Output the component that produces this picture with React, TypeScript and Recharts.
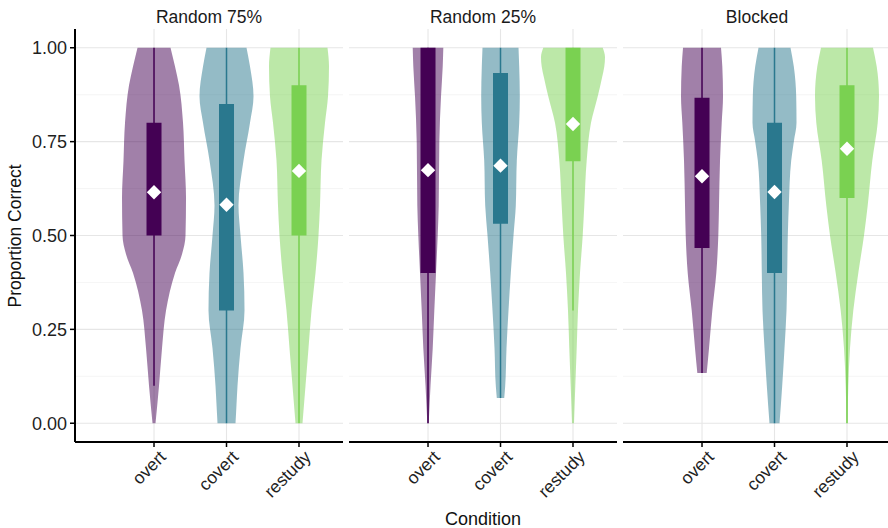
import React from 'react';
import { ComposedChart, Area, Scatter, XAxis, YAxis, CartesianGrid } from 'recharts';

const PANELS = ['Random 75%', 'Random 25%', 'Blocked'];
const CONDITIONS = ['overt', 'covert', 'restudy'];
const COLORS = ['#440154', '#2A788E', '#7AD151'];
const Y_TICKS = [0, 0.25, 0.5, 0.75, 1];
const Y_MINOR = [0.125, 0.375, 0.625, 0.875];
const CATEGORY_POS = [1, 2, 3];

// Violin outlines: proportion-correct levels and relative density at each level
const random75Levels = [
  [0, 0.1, 0.2, 0.3, 0.4, 0.45, 0.5, 0.6, 0.7, 0.8, 0.9, 0.95, 1],
  [0, 0.05, 0.1, 0.2, 0.3, 0.4, 0.5, 0.58, 0.7, 0.8, 0.87, 0.95, 1],
  [0, 0.1, 0.2, 0.3, 0.4, 0.5, 0.58, 0.7, 0.8, 0.87, 0.95, 1],
];
const random75Density = [
  [1.5, 5, 8, 12, 21, 28, 31.5, 32, 30.5, 29, 25, 21, 16.5],
  [9, 10, 11, 14, 18, 17, 14, 12, 17, 23.5, 27, 23.5, 20],
  [3.5, 6.5, 9.5, 12.5, 16.5, 19.5, 21, 22.5, 26, 29, 30, 28.5],
];
const random25Levels = [
  [0, 0.1, 0.2, 0.3, 0.4, 0.5, 0.58, 0.75, 0.87, 0.95, 1],
  [0.067, 0.1, 0.2, 0.3, 0.4, 0.5, 0.58, 0.7, 0.8, 0.87, 0.95, 1],
  [0, 0.1, 0.2, 0.3, 0.4, 0.5, 0.58, 0.7, 0.8, 0.87, 0.92, 0.95, 0.975, 1],
];
const random25Density = [
  [0.7, 2.5, 4.7, 6.3, 8, 9.7, 10.7, 11.3, 13, 14.7, 15.3],
  [3.7, 4.7, 6, 8, 10.3, 13, 15.3, 16.3, 18.7, 19.3, 18.7, 18],
  [1, 2.3, 3.7, 5, 7, 9.7, 11.3, 13.7, 18, 24.7, 29, 31.3, 32, 29.7],
];
const blockedLevels = [
  [0.134, 0.2, 0.3, 0.4, 0.5, 0.58, 0.7, 0.8, 0.87, 0.95, 1],
  [0, 0.1, 0.2, 0.3, 0.4, 0.5, 0.58, 0.7, 0.75, 0.8, 0.87, 0.95, 1],
  [0, 0.1, 0.2, 0.3, 0.4, 0.5, 0.58, 0.7, 0.8, 0.87, 0.95, 1],
];
const blockedDensity = [
  [4.7, 7, 10.3, 14.3, 16.3, 17, 18, 19.7, 21, 20.3, 19],
  [5, 7.7, 10, 12, 12.7, 13.3, 14.3, 16.7, 19.3, 22, 21.7, 19.3, 16],
  [0.5, 1.3, 3, 6.3, 11.3, 17, 20.7, 25.3, 30.7, 32, 29.7, 26],
];

// Box-plot statistics [panel][condition]
const q1 = [[0.5, 0.3, 0.5], [0.4, 0.531, 0.698], [0.467, 0.4, 0.6]];
const q3 = [[0.8, 0.85, 0.9], [1, 0.933, 1], [0.867, 0.8, 0.9]];
const whiskerLow = [[0.1, 0, 0], [0, 0.067, 0.3], [0.134, 0, 0]];
const whiskerHigh = [[1, 1, 1], [1, 1, 1], [1, 1, 1]];
const means = [[0.615, 0.582, 0.672], [0.674, 0.686, 0.797], [0.658, 0.616, 0.731]];

const LEVELS = [random75Levels, random25Levels, blockedLevels];
const DENSITY = [random75Density, random25Density, blockedDensity];

const FONT = '"Liberation Sans", Arial, Helvetica, sans-serif';
const X_DOMAIN: [number, number] = [-0.09, 3.607];
const Y_DOMAIN: [number, number] = [-0.05, 1.05];
const VIOLIN_HALF = 0.4414;
const DENSITY_MAX = Math.max(...DENSITY.flat(2));

function buildRows(p: number) {
  const rows: any[] = [];
  LEVELS[p].forEach((lv, i) => {
    lv.forEach((y, j) => {
      const hw = (DENSITY[p][i][j] / DENSITY_MAX) * VIOLIN_HALF;
      const c = CATEGORY_POS[i];
      rows.push({ y, ['v' + i]: [c - hw, c + hw] });
    });
  });
  return rows;
}

const XTick = (props: any) => {
  const { x, y, payload } = props;
  const ax = x + 13;
  const ay = y + 9;
  return (
    <text
      x={ax}
      y={ay}
      textAnchor="end"
      transform={`rotate(-45 ${ax} ${ay})`}
      fontSize={17.5}
      fill="#1f1f1f"
      fontFamily={FONT}
    >
      {CONDITIONS[payload.value - 1]}
    </text>
  );
};

const Diamond = (props: any) => {
  const { cx, cy } = props;
  const r = 7.2;
  return <path d={`M${cx},${cy - r}L${cx + r},${cy}L${cx},${cy + r}L${cx - r},${cy}Z`} fill="#ffffff" />;
};

const Empty = () => <g />;

const Panel = ({ p, left, width, showY }: { p: number; left: number; width: number; showY: boolean }) => {
  const rows = buildRows(p);
  return (
    <div style={{ position: 'absolute', left, top: 0 }}>
      <ComposedChart
        layout="vertical"
        width={width}
        height={528}
        data={rows}
        margin={{ top: 29, right: showY ? 7 : 0, bottom: 0, left: 0 }}
      >
        <CartesianGrid horizontalValues={Y_MINOR} vertical={false} stroke="#f2f2f2" strokeWidth={0.8} />
        <CartesianGrid horizontalValues={Y_TICKS} verticalValues={CATEGORY_POS} stroke="#e6e6e6" strokeWidth={1.1} />
        <XAxis
          type="number"
          dataKey="x"
          domain={X_DOMAIN}
          allowDataOverflow
          ticks={CATEGORY_POS}
          interval={0}
          height={86}
          axisLine={{ stroke: '#000', strokeWidth: 2 }}
          tickLine={{ stroke: '#000', strokeWidth: 1.5 }}
          tickSize={5}
          tick={<XTick />}
        />
        <YAxis
          type="number"
          dataKey="y"
          domain={Y_DOMAIN}
          reversed
          allowDataOverflow
          ticks={Y_TICKS}
          interval={0}
          hide={!showY}
          width={75}
          axisLine={{ stroke: '#000', strokeWidth: 2 }}
          tickLine={{ stroke: '#000', strokeWidth: 1.5 }}
          tickSize={5}
          tickMargin={3}
          tickFormatter={(v: number) => v.toFixed(2)}
          tick={{ fontSize: 18, fill: '#1f1f1f', fontFamily: FONT }}
        />
        {CONDITIONS.map((c, i) => (
          <Area
            key={'violin' + c}
            dataKey={'v' + i}
            type="monotone"
            stroke="none"
            fill={COLORS[i]}
            fillOpacity={0.5}
            isAnimationActive={false}
            dot={false}
            activeDot={false}
          />
        ))}
        {CONDITIONS.map((c, i) => (
          <Scatter
            key={'whisker' + c}
            data={[
              { x: CATEGORY_POS[i], y: whiskerLow[p][i] },
              { x: CATEGORY_POS[i], y: whiskerHigh[p][i] },
            ]}
            fill={COLORS[i]}
            line={{ stroke: COLORS[i], strokeWidth: 1.5 }}
            shape={<Empty />}
            isAnimationActive={false}
          />
        ))}
        {CONDITIONS.map((c, i) => (
          <Scatter
            key={'box' + c}
            data={[
              { x: CATEGORY_POS[i], y: q1[p][i] },
              { x: CATEGORY_POS[i], y: q3[p][i] },
            ]}
            fill={COLORS[i]}
            line={{ stroke: COLORS[i], strokeWidth: 15 }}
            shape={<Empty />}
            isAnimationActive={false}
          />
        ))}
        {CONDITIONS.map((c, i) => (
          <Scatter
            key={'mean' + c}
            data={[{ x: CATEGORY_POS[i], y: means[p][i] }]}
            fill="#ffffff"
            shape={<Diamond />}
            isAnimationActive={false}
          />
        ))}
      </ComposedChart>
    </div>
  );
};

export default function App() {
  const panelLefts = [0, 349, 623];
  const panelWidths = [350, 268, 268];
  const titleCenters = [209, 483, 757];
  return (
    <div
      style={{
        position: 'absolute',
        left: 0,
        top: 0,
        width: 888,
        height: 528,
        overflow: 'hidden',
        background: '#ffffff',
        fontFamily: FONT,
      }}
    >
      {PANELS.map((name, p) => (
        <Panel key={name} p={p} left={panelLefts[p]} width={panelWidths[p]} showY={p === 0} />
      ))}
      <svg
        width={888}
        height={528}
        style={{ position: 'absolute', left: 0, top: 0, pointerEvents: 'none' }}
      >
        {PANELS.map((name, p) => (
          <text
            key={name}
            x={titleCenters[p]}
            y={23}
            textAnchor="middle"
            fontSize={17.5}
            fill="#1a1a1a"
            fontFamily={FONT}
          >
            {name}
          </text>
        ))}
        <text x={483} y={525} textAnchor="middle" fontSize={18} fill="#111" fontFamily={FONT}>
          Condition
        </text>
        <text
          x={21}
          y={236}
          textAnchor="middle"
          transform="rotate(-90 21 236)"
          fontSize={17.5}
          fill="#111"
          fontFamily={FONT}
        >
          Proportion Correct
        </text>
      </svg>
    </div>
  );
}
